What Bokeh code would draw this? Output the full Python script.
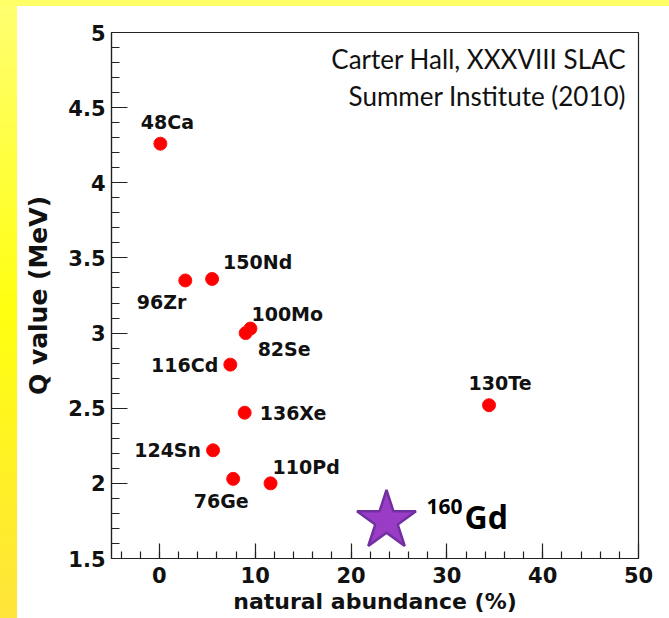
import numpy as np
from bokeh.plotting import figure
from bokeh.models import FixedTicker, Label, Div, ColumnDataSource
from bokeh.layouts import column, row
from bokeh.embed import file_html
from bokeh.resources import INLINE
from bokeh.core.properties import value

# Double-beta decay candidates: natural abundance (%) vs Q value (MeV)
isotopes = ["48Ca", "96Zr", "150Nd", "100Mo", "82Se", "116Cd",
            "136Xe", "124Sn", "76Ge", "110Pd", "130Te"]
abundance = [0.1, 2.7, 5.5, 9.5, 9.0, 7.4, 8.9, 5.6, 7.7, 11.6, 34.4]
q_value = [4.26, 3.35, 3.36, 3.03, 3.00, 2.79, 2.47, 2.22, 2.03, 2.00, 2.52]

# highlighted isotope
gd_abundance = [23.7]
gd_q_value = [1.75]

x_ticks = [0, 10, 20, 30, 40, 50]
x_tick_labels = ["0", "10", "20", "30", "40", "50"]
y_ticks = [1.5, 2.0, 2.5, 3.0, 3.5, 4.0, 4.5, 5.0]
y_tick_labels = ["1.5", "2", "2.5", "3", "3.5", "4", "4.5", "5"]

# label placement (screen px offsets and alignment per isotope)
label_dx = [7, 1, 11, 1, 12, -12, 15, -12, -12, 2, 11]
label_dy = [-22, 22, -17, -15, 16, 0, 0, 0, 22, -16, -22]
label_align = ["center", "right", "left", "left", "left", "right",
               "left", "right", "center", "left", "center"]

BOLD = value("DejaVu Sans")

p = figure(width=652, height=612, x_range=(-5, 50), y_range=(1.5, 5),
           output_backend="svg", toolbar_location=None,
           min_border_left=94, min_border_right=31,
           min_border_top=26, min_border_bottom=60)
p.background_fill_color = "white"
p.border_fill_color = "white"
p.outline_line_color = "#222222"
p.outline_line_width = 1.2
p.grid.visible = False

p.xaxis.ticker = FixedTicker(ticks=x_ticks, minor_ticks=list(np.arange(-4, 50, 2)))
p.yaxis.ticker = FixedTicker(ticks=y_ticks, minor_ticks=list(np.round(np.arange(1.6, 5.0, 0.1), 2)))
p.xaxis.major_label_overrides = dict(zip(x_ticks, x_tick_labels))
p.yaxis.major_label_overrides = dict(zip(y_ticks, y_tick_labels))

for ax in (p.xaxis[0], p.yaxis[0]):
    ax.axis_line_color = "#222222"
    ax.axis_line_width = 1.2
    ax.major_tick_line_color = "#222222"
    ax.minor_tick_line_color = "#222222"
    ax.major_tick_line_width = 1.2
    ax.minor_tick_line_width = 1.2
    ax.major_tick_out = 0
    ax.minor_tick_out = 0
    ax.major_label_text_font = "DejaVu Sans"
    ax.major_label_text_font_style = "bold"
    ax.major_label_text_font_size = "21px"
    ax.major_label_text_color = "#111111"
    ax.axis_label_text_font = "DejaVu Sans"
    ax.axis_label_text_font_style = "bold"
    ax.axis_label_text_color = "#111111"

p.xaxis.major_tick_in = 15
p.xaxis.minor_tick_in = 7
p.yaxis.major_tick_in = 16
p.yaxis.minor_tick_in = 8
p.xaxis.major_label_standoff = 8
p.yaxis.major_label_standoff = 6

p.xaxis.axis_label = "natural abundance (%)"
p.xaxis.axis_label_text_font_size = "22px"
p.xaxis.axis_label_standoff = 3
p.yaxis.axis_label = "Q value (MeV)"
p.yaxis.axis_label_text_font_size = "25px"
p.yaxis.axis_label_standoff = 12

src = ColumnDataSource(dict(x=abundance, y=q_value, name=isotopes,
                            dx=label_dx, dy=label_dy, align=label_align))

p.scatter("x", "y", source=src, size=13, marker="circle",
          fill_color="#FF0000", line_color="#FF1010", line_width=1)

p.text("x", "y", text="name", source=src, x_offset="dx", y_offset="dy",
       text_align="align", text_baseline="middle",
       text_font=BOLD, text_font_style="bold", text_font_size="19px",
       text_color="#111111")

p.scatter(gd_abundance, gd_q_value, marker="star", size=62,
          fill_color="#9B3CC6", line_color="#7030A0", line_width=2.5)

p.text(gd_abundance, gd_q_value, text=["160"], x_offset=40, y_offset=-14,
       text_align="left", text_baseline="middle",
       text_font=value("Open Sans"), text_font_style="bold", text_font_size="21px",
       text_color="black")
p.text(gd_abundance, gd_q_value, text=["Gd"], x_offset=78, y_offset=-4,
       text_align="left", text_baseline="middle",
       text_font=value("Open Sans"), text_font_style="bold", text_font_size="32px",
       text_color="black")

for txt, yy in (("Carter Hall, XXXVIII SLAC", 4.825), ("Summer Institute (2010)", 4.578)):
    p.add_layout(Label(x=48.7, y=yy, text=txt, text_align="right",
                       text_baseline="middle", text_font="Lato",
                       text_font_size="26px", text_color="#111111"))

top_band = Div(width=669, height=6, styles={"background": "#FFFF66", "margin": "0"})
left_band = Div(width=17, height=612,
                styles={"background": "linear-gradient(#FFFF70, #FFFF10 50%, #FFE43A)",
                        "margin": "0"})

layout = column(top_band, row(left_band, p, spacing=0), spacing=0)

open("out.html", "w").write(file_html(layout, INLINE))
